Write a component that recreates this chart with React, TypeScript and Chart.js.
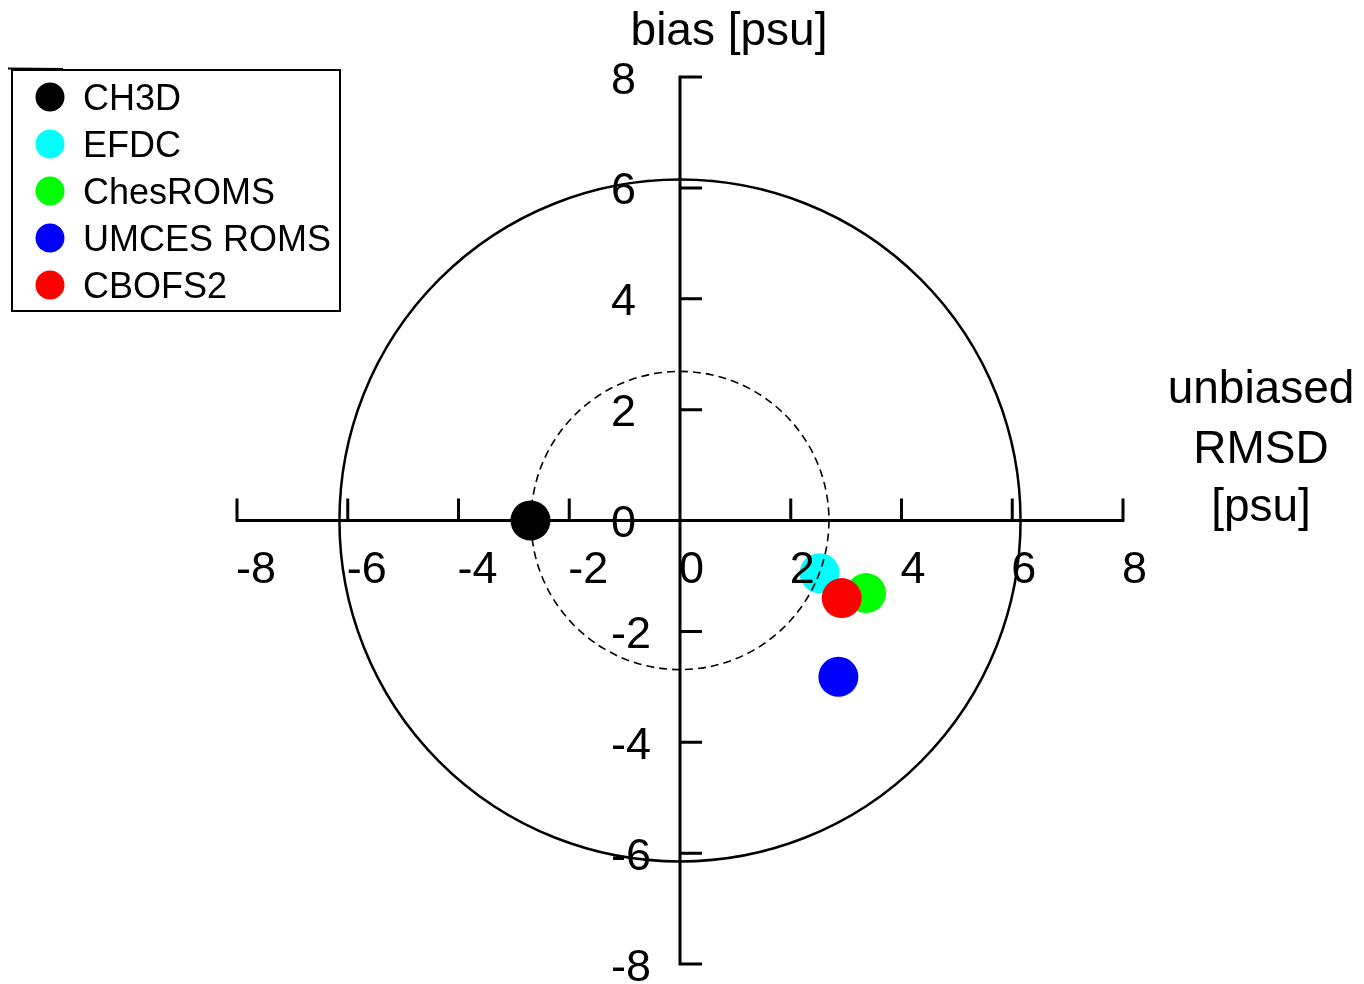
import React, { useEffect, useRef } from 'react';
import { Chart, registerables } from 'chart.js';

Chart.register(...registerables);

// ---- data ----
const models = ['CH3D', 'EFDC', 'ChesROMS', 'UMCES ROMS', 'CBOFS2'];
const unbiasedRmsd = [-2.7, 2.52, 3.36, 2.86, 2.92];
const bias = [0.0, -0.95, -1.31, -2.82, -1.4];
const colors = ['#000000', '#00ffff', '#00ff00', '#0000ff', '#ff0000'];
// drawing order (lower = on top)
const drawOrder = [0, 4, 2, 3, 1];
const xTicks = [-8, -6, -4, -2, 0, 2, 4, 6, 8];
const yTicks = [-8, -6, -4, -2, 0, 2, 4, 6, 8];
const outerCircleRadius = 6.15;
const innerCircleRadius = 2.69;
const xTitle = ['unbiased', 'RMSD', '[psu]'];
const yTitle = 'bias [psu]';

const FONT = '"Liberation Sans", Arial, Helvetica, sans-serif';

const targetPlugin = {
  id: 'target',
  beforeDatasetsDraw(chart: any) {
    const { ctx, scales } = chart;
    const x = scales.x, y = scales.y;
    const cx = x.getPixelForValue(0);
    const cy = y.getPixelForValue(0);
    ctx.save();
    ctx.strokeStyle = '#000';
    // outer solid circle
    ctx.lineWidth = 2.5;
    ctx.beginPath();
    ctx.ellipse(cx, cy, x.getPixelForValue(outerCircleRadius) - cx, cy - y.getPixelForValue(outerCircleRadius), 0, 0, Math.PI * 2);
    ctx.stroke();
    // axes
    ctx.lineWidth = 3;
    ctx.lineCap = 'butt';
    ctx.beginPath();
    ctx.moveTo(x.getPixelForValue(xTicks[0]) - 1.5, cy);
    ctx.lineTo(x.getPixelForValue(xTicks[xTicks.length - 1]) + 1.5, cy);
    ctx.moveTo(cx, y.getPixelForValue(yTicks[yTicks.length - 1]) - 1.5);
    ctx.lineTo(cx, y.getPixelForValue(yTicks[0]) + 1.5);
    for (const t of xTicks) {
      const px = x.getPixelForValue(t);
      ctx.moveTo(px, cy);
      ctx.lineTo(px, cy - 22);
    }
    for (const t of yTicks) {
      const py = y.getPixelForValue(t);
      ctx.moveTo(cx, py);
      ctx.lineTo(cx + 22, py);
    }
    ctx.stroke();
    ctx.restore();
  },
  afterDatasetDraw(chart: any, args: any) {
    if (args.index !== 1) return;
    const { ctx, scales } = chart;
    const x = scales.x, y = scales.y;
    const cx = x.getPixelForValue(0);
    const cy = y.getPixelForValue(0);
    ctx.save();
    ctx.strokeStyle = '#000';
    ctx.lineWidth = 1.6;
    ctx.setLineDash([8, 5]);
    ctx.beginPath();
    ctx.ellipse(cx, cy, x.getPixelForValue(innerCircleRadius) - cx, cy - y.getPixelForValue(innerCircleRadius), 0, 0, Math.PI * 2);
    ctx.stroke();
    ctx.restore();
  },
  afterDatasetsDraw(chart: any) {
    const { ctx, scales } = chart;
    const x = scales.x, y = scales.y;
    const cy = y.getPixelForValue(0);
    ctx.save();
    ctx.fillStyle = '#000';
    ctx.textBaseline = 'alphabetic';
    // tick labels
    ctx.font = `45px ${FONT}`;
    ctx.textAlign = 'left';
    for (const t of xTicks) {
      ctx.fillText(String(t), x.getPixelForValue(t) - 1, cy + 62);
    }
    for (const t of yTicks) {
      ctx.fillText(String(t), 611, y.getPixelForValue(t) + 16.5);
    }
    // titles
    ctx.font = `46px ${FONT}`;
    ctx.textAlign = 'center';
    ctx.fillText(yTitle, 729, 45);
    const xtBase = [403, 463, 521];
    xTitle.forEach((s, i) => ctx.fillText(s, 1261, xtBase[i]));
    // legend
    ctx.strokeStyle = '#000';
    ctx.lineWidth = 2;
    ctx.strokeRect(12, 70, 328, 241);
    ctx.beginPath();
    ctx.moveTo(8, 68.5);
    ctx.lineTo(63, 69);
    ctx.stroke();
    ctx.font = `36px ${FONT}`;
    ctx.textAlign = 'left';
    models.forEach((m, i) => {
      const my = 97 + i * 47;
      ctx.fillStyle = colors[i];
      ctx.beginPath();
      ctx.arc(50, my, 14.5, 0, Math.PI * 2);
      ctx.fill();
      ctx.fillStyle = '#000';
      ctx.fillText(m, 83, my + 13);
    });
    ctx.restore();
  },
};

export default function App() {
  const ref = useRef<HTMLCanvasElement>(null);
  useEffect(() => {
    if (!ref.current) return;
    const chart = new Chart(ref.current, {
      type: 'scatter',
      data: {
        datasets: models.map((m, i) => ({
          label: m,
          data: [{ x: unbiasedRmsd[i], y: bias[i] }],
          backgroundColor: colors[i],
          borderColor: colors[i],
          borderWidth: 0,
          pointRadius: 20,
          pointHoverRadius: 20,
          order: drawOrder[i],
        })),
      },
      options: {
        animation: false,
        responsive: false,
        devicePixelRatio: 1,
        events: [],
        layout: { padding: { left: 237, right: 241, top: 77, bottom: 20 } },
        scales: {
          x: { type: 'linear', min: -8, max: 8, display: false },
          y: { type: 'linear', min: -8, max: 8, display: false },
        },
        plugins: { legend: { display: false }, tooltip: { enabled: false } },
      },
      plugins: [targetPlugin],
    } as any);
    return () => chart.destroy();
  }, []);
  return (
    <div style={{ position: 'absolute', left: 0, top: 0, width: 1364, height: 984, background: '#fff' }}>
      <canvas ref={ref} width={1364} height={984} style={{ display: 'block' }} />
    </div>
  );
}
